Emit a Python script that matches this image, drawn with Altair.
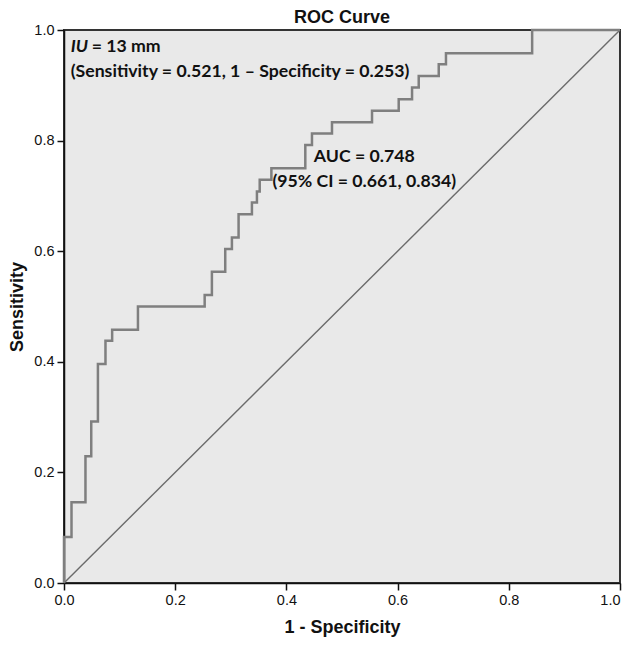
import altair as alt
import pandas as pd

# ROC curve vertices (1 - Specificity, Sensitivity), step-before
roc_fpr = [0.0, 0.0135, 0.0386, 0.049, 0.061, 0.0746, 0.0866, 0.133, 0.253, 0.266,
           0.290, 0.302, 0.314, 0.338, 0.347, 0.352, 0.373, 0.434, 0.446, 0.482,
           0.554, 0.602, 0.626, 0.638, 0.674, 0.687, 0.842, 1.0]
roc_tpr = [0.0, 0.083, 0.146, 0.229, 0.292, 0.396, 0.438, 0.458, 0.500, 0.521,
           0.563, 0.604, 0.625, 0.667, 0.688, 0.708, 0.729, 0.750, 0.792, 0.813,
           0.833, 0.854, 0.875, 0.896, 0.917, 0.938, 0.958, 1.0]

ref_x = [0.0, 1.0]
ref_y = [0.0, 1.0]

tick_values = [0.0, 0.2, 0.4, 0.6, 0.8, 1.0]

ann_left_text = ["(Sensitivity = 0.521, 1 \u2013 Specificity = 0.253)"]
ann_left_x = [0.012]
ann_left_y = [0.924]
iu_label = "IU"
iu_rest = " = 13 mm"
iu_x = 0.012
iu_y = 0.969

auc_text = ["AUC = 0.748", "(95% CI = 0.661, 0.834)"]
auc_x = [0.540, 0.540]
auc_y = [0.770, 0.725]

FONT = "Liberation Sans, Arial, sans-serif"
ANN_FONT = "Lato, Liberation Sans, sans-serif"
ANN_SIZE = 17.7

xs = alt.Scale(domain=[0, 1], nice=False, zero=False)
ys = alt.Scale(domain=[0, 1], nice=False, zero=False)

roc_df = pd.DataFrame({"fpr": roc_fpr, "tpr": roc_tpr})
ref_df = pd.DataFrame({"fpr": ref_x, "tpr": ref_y})

x_axis = alt.Axis(values=tick_values, format=".1f", title="1 - Specificity",
                  grid=False, tickSize=7, labelPadding=3, titlePadding=12,
                  labelFlush=False,
                  labelAlign={"condition": {"test": "datum.value >= 1", "value": "right"},
                              "value": "center"})
y_axis = alt.Axis(values=tick_values, format=".1f", title="Sensitivity",
                  grid=False, tickSize=7, labelPadding=3, titlePadding=7,
                  labelFlush=False)

ref = alt.Chart(ref_df).mark_line(color="#6b6b6b", strokeWidth=1.4).encode(
    x=alt.X("fpr:Q", scale=xs, axis=x_axis),
    y=alt.Y("tpr:Q", scale=ys, axis=y_axis),
)

roc = alt.Chart(roc_df).mark_line(color="#7f7f7f", strokeWidth=2.5,
                                  interpolate="step-before").encode(
    x=alt.X("fpr:Q", scale=xs),
    y=alt.Y("tpr:Q", scale=ys),
)

iu1 = alt.Chart(pd.DataFrame({"x": [iu_x], "y": [iu_y], "t": [iu_label]})).mark_text(
    font=ANN_FONT, fontSize=ANN_SIZE, fontWeight="bold", fontStyle="italic",
    align="left", baseline="middle", color="#111111").encode(
    x=alt.X("x:Q", scale=xs), y=alt.Y("y:Q", scale=ys), text="t:N")

iu2 = alt.Chart(pd.DataFrame({"x": [iu_x], "y": [iu_y], "t": [iu_rest]})).mark_text(
    font=ANN_FONT, fontSize=ANN_SIZE, fontWeight="bold",
    align="left", baseline="middle", color="#111111", dx=21).encode(
    x=alt.X("x:Q", scale=xs), y=alt.Y("y:Q", scale=ys), text="t:N")

left_ann = alt.Chart(pd.DataFrame({"x": ann_left_x, "y": ann_left_y, "t": ann_left_text})).mark_text(
    font=ANN_FONT, fontSize=ANN_SIZE, fontWeight="bold",
    align="left", baseline="middle", color="#111111").encode(
    x=alt.X("x:Q", scale=xs), y=alt.Y("y:Q", scale=ys), text="t:N")

auc_ann = alt.Chart(pd.DataFrame({"x": auc_x, "y": auc_y, "t": auc_text})).mark_text(
    font=ANN_FONT, fontSize=ANN_SIZE, fontWeight="bold",
    align="center", baseline="middle", color="#111111").encode(
    x=alt.X("x:Q", scale=xs), y=alt.Y("y:Q", scale=ys), text="t:N")

chart = alt.layer(ref, roc, iu1, iu2, left_ann, auc_ann).properties(
    width=556, height=553,
    title=alt.TitleParams("ROC Curve", font=FONT, fontSize=18, fontWeight="bold",
                          color="#111111", anchor="middle", frame="group",
                          offset=4, dy=9),
    autosize=alt.AutoSizeParams(type="none"),
    padding={"left": 56, "top": 22, "right": 3, "bottom": 57},
).configure_view(
    fill="#e9e9e9", stroke="#333333", strokeWidth=2,
).configure_axis(
    domainColor="#111111", domainWidth=1.5, tickColor="#111111", tickWidth=1.5,
    labelFont=FONT, labelFontSize=14.5, labelColor="#111111",
    titleFont=FONT, titleFontSize=18, titleFontWeight="bold", titleColor="#111111",
)

chart.save("out.html", embed_options={"renderer": "svg", "actions": False})
